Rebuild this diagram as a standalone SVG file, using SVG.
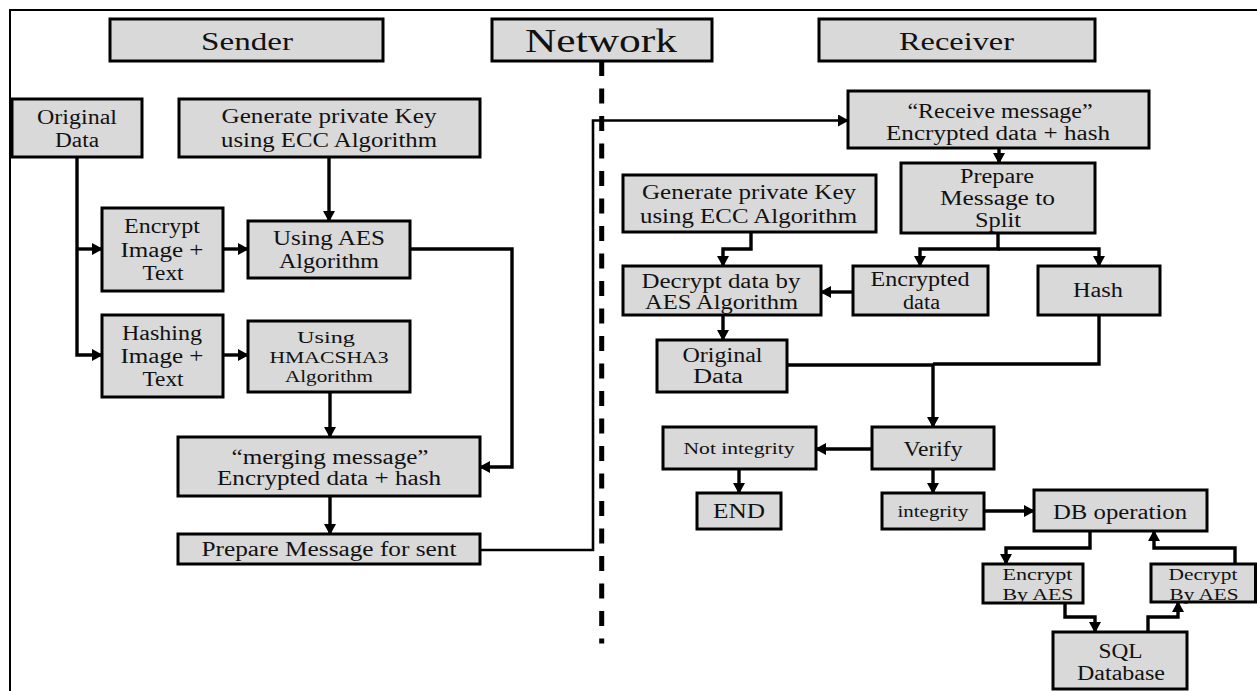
<svg xmlns="http://www.w3.org/2000/svg" width="1257" height="691" viewBox="0 0 1257 691">
  <style>
    .box { fill: #d9d9d9; stroke: #000; stroke-width: 3; }
    .t { font-family: "Liberation Serif", "Times New Roman", serif; font-size: 20px; fill: #111; text-anchor: middle; }
    .sm { font-size: 17px; }
    .hd { font-size: 26px; }
    .big { font-size: 33px; }
    .ln { fill: none; stroke: #000; stroke-width: 3.4; }
    .thin { stroke-width: 2.6; }
    .arr { marker-end: url(#ah); }
  </style>
  <defs>
    <marker id="ah" viewBox="0 0 11 12" refX="10" refY="6" markerWidth="11" markerHeight="12" markerUnits="userSpaceOnUse" orient="auto">
      <path d="M0,0 L11,6 L0,12 z" fill="#000"/>
    </marker>
  </defs>

  <rect width="1257" height="691" fill="#fff"/>
  <!-- outer frame -->
  <path d="M10,691 V10 H1257" fill="none" stroke="#000" stroke-width="2"/>

  <!-- lane headers -->
  <g id="hdr-sender">
    <rect class="box" x="110" y="19" width="273" height="42"/>
    <text class="t hd" x="247" y="50" textLength="92" lengthAdjust="spacingAndGlyphs">Sender</text>
  </g>
  <g id="hdr-network">
    <rect class="box" x="492" y="19" width="220" height="42"/>
    <text class="t big" x="601" y="51.5" textLength="152" lengthAdjust="spacingAndGlyphs">Network</text>
  </g>
  <g id="hdr-receiver">
    <rect class="box" x="819" y="19" width="276" height="42"/>
    <text class="t hd" x="956.5" y="50" textLength="115" lengthAdjust="spacingAndGlyphs">Receiver</text>
  </g>

  <!-- network divider -->
  <line x1="601.7" y1="61" x2="601.7" y2="643.5" stroke="#000" stroke-width="5" stroke-dasharray="15 12.5"/>

  <!-- connectors -->
  <g id="connectors">
    <path class="ln arr" d="M77,157 V355 H102"/>
    <path class="ln arr" d="M77,249 H102"/>
    <path class="ln arr" d="M223,249 H248"/>
    <path class="ln arr" d="M223,355 H248"/>
    <path class="ln arr" d="M329,157 V221"/>
    <path class="ln arr" d="M410,249 H512 V467 H480"/>
    <path class="ln arr" d="M330,392 V437"/>
    <path class="ln arr" d="M330,496 V534"/>
    <path class="ln thin arr" d="M480,550 H593 V120.5 H848"/>

    <path class="ln arr" d="M999,148 V163"/>
    <path class="ln arr" d="M998,233 V249 H920 V266"/>
    <path class="ln arr" d="M998,249 H1099 V266"/>
    <path class="ln arr" d="M751,232 V249 H723 V266"/>
    <path class="ln arr" d="M853,292 H821"/>
    <path class="ln arr" d="M723,315 V340"/>
    <path class="ln" d="M787,365 H933"/>
    <path class="ln" d="M1099,315 V364 H933"/>
    <path class="ln arr" d="M933,364 V427"/>
    <path class="ln arr" d="M872,449 H816"/>
    <path class="ln arr" d="M739,469 V493"/>
    <path class="ln arr" d="M933,469 V493"/>
    <path class="ln arr" d="M984,511 H1034"/>
    <path class="ln arr" d="M1090,531 V548 H1006 V564"/>
    <path class="ln arr" d="M1065,603 V617 H1095 V632"/>
    <path class="ln arr" d="M1148,632 V617 H1178 V602"/>
    <path class="ln arr" d="M1235,564 V548 H1154 V531"/>
  </g>

  <!-- sender side -->
  <g id="s-original">
    <rect class="box" x="12" y="99" width="130" height="58"/>
    <text class="t" x="77" y="124" textLength="80" lengthAdjust="spacingAndGlyphs">Original</text>
    <text class="t" x="77" y="147" textLength="44" lengthAdjust="spacingAndGlyphs">Data</text>
  </g>
  <g id="s-genkey">
    <rect class="box" x="179" y="99" width="301" height="58"/>
    <text class="t" x="329" y="123" textLength="215" lengthAdjust="spacingAndGlyphs">Generate private Key</text>
    <text class="t" x="329" y="147" textLength="216" lengthAdjust="spacingAndGlyphs">using ECC Algorithm</text>
  </g>
  <g id="s-encrypt">
    <rect class="box" x="102" y="208" width="121" height="83"/>
    <text class="t" x="162" y="233" textLength="76" lengthAdjust="spacingAndGlyphs">Encrypt</text>
    <text class="t" x="162" y="256.5" textLength="83" lengthAdjust="spacingAndGlyphs">Image +</text>
    <text class="t" x="163" y="279.5" textLength="41" lengthAdjust="spacingAndGlyphs">Text</text>
  </g>
  <g id="s-aes">
    <rect class="box" x="248" y="221" width="162" height="57"/>
    <text class="t" x="329" y="244.5" textLength="112" lengthAdjust="spacingAndGlyphs">Using AES</text>
    <text class="t" x="329" y="267.5" textLength="100" lengthAdjust="spacingAndGlyphs">Algorithm</text>
  </g>
  <g id="s-hashing">
    <rect class="box" x="102" y="315" width="121" height="82"/>
    <text class="t" x="162" y="340" textLength="80" lengthAdjust="spacingAndGlyphs">Hashing</text>
    <text class="t" x="162" y="362.5" textLength="83" lengthAdjust="spacingAndGlyphs">Image +</text>
    <text class="t" x="163" y="385.5" textLength="41" lengthAdjust="spacingAndGlyphs">Text</text>
  </g>
  <g id="s-hmac">
    <rect class="box" x="248" y="321" width="162" height="71"/>
    <text class="t sm" x="326" y="343" textLength="58" lengthAdjust="spacingAndGlyphs">Using</text>
    <text class="t sm" x="329" y="363" textLength="119" lengthAdjust="spacingAndGlyphs">HMACSHA3</text>
    <text class="t sm" x="329" y="382" textLength="88" lengthAdjust="spacingAndGlyphs">Algorithm</text>
  </g>
  <g id="s-merge">
    <rect class="box" x="178" y="437" width="302" height="59"/>
    <text class="t" x="330" y="463.5" textLength="197" lengthAdjust="spacingAndGlyphs">“merging message”</text>
    <text class="t" x="329" y="485" textLength="224" lengthAdjust="spacingAndGlyphs">Encrypted data + hash</text>
  </g>
  <g id="s-prepare">
    <rect class="box" x="178" y="534" width="302" height="30"/>
    <text class="t" x="329" y="556" textLength="255" lengthAdjust="spacingAndGlyphs">Prepare Message for sent</text>
  </g>

  <!-- receiver side -->
  <g id="r-receive">
    <rect class="box" x="848" y="91" width="301" height="57"/>
    <text class="t" x="1000" y="117.5" textLength="185" lengthAdjust="spacingAndGlyphs">“Receive message”</text>
    <text class="t" x="998" y="139.5" textLength="224" lengthAdjust="spacingAndGlyphs">Encrypted data + hash</text>
  </g>
  <g id="r-split">
    <rect class="box" x="901" y="163" width="194" height="70"/>
    <text class="t" x="997" y="183" textLength="74" lengthAdjust="spacingAndGlyphs">Prepare</text>
    <text class="t" x="997.5" y="205" textLength="115" lengthAdjust="spacingAndGlyphs">Message to</text>
    <text class="t" x="998" y="227" textLength="46" lengthAdjust="spacingAndGlyphs">Split</text>
  </g>
  <g id="r-genkey">
    <rect class="box" x="623" y="175" width="253" height="57"/>
    <text class="t" x="749" y="199" textLength="214" lengthAdjust="spacingAndGlyphs">Generate private Key</text>
    <text class="t" x="748.5" y="222.5" textLength="217" lengthAdjust="spacingAndGlyphs">using ECC Algorithm</text>
  </g>
  <g id="r-decrypt">
    <rect class="box" x="623" y="266" width="198" height="49"/>
    <text class="t" x="721" y="287.5" textLength="159" lengthAdjust="spacingAndGlyphs">Decrypt data by</text>
    <text class="t" x="721.5" y="308.5" textLength="153" lengthAdjust="spacingAndGlyphs">AES Algorithm</text>
  </g>
  <g id="r-encdata">
    <rect class="box" x="853" y="266" width="135" height="49"/>
    <text class="t" x="920" y="286" textLength="99" lengthAdjust="spacingAndGlyphs">Encrypted</text>
    <text class="t" x="921.5" y="308.5" textLength="37" lengthAdjust="spacingAndGlyphs">data</text>
  </g>
  <g id="r-hash">
    <rect class="box" x="1038" y="266" width="122" height="49"/>
    <text class="t" x="1098" y="297" textLength="50" lengthAdjust="spacingAndGlyphs">Hash</text>
  </g>
  <g id="r-original">
    <rect class="box" x="657" y="340" width="130" height="52"/>
    <text class="t" x="722.5" y="361.5" textLength="80" lengthAdjust="spacingAndGlyphs">Original</text>
    <text class="t" x="718" y="383" textLength="50" lengthAdjust="spacingAndGlyphs">Data</text>
  </g>
  <g id="r-verify">
    <rect class="box" x="872" y="427" width="122" height="42"/>
    <text class="t" x="933" y="456" textLength="59" lengthAdjust="spacingAndGlyphs">Verify</text>
  </g>
  <g id="r-notint">
    <rect class="box" x="663" y="427" width="153" height="42"/>
    <text class="t sm" x="739" y="454" textLength="111" lengthAdjust="spacingAndGlyphs">Not integrity</text>
  </g>
  <g id="r-end">
    <rect class="box" x="697" y="493" width="84" height="36"/>
    <text class="t" x="739" y="517.5" textLength="52" lengthAdjust="spacingAndGlyphs">END</text>
  </g>
  <g id="r-integrity">
    <rect class="box" x="882" y="493" width="102" height="36"/>
    <text class="t sm" x="933" y="516.5" textLength="71" lengthAdjust="spacingAndGlyphs">integrity</text>
  </g>
  <g id="r-db">
    <rect class="box" x="1034" y="490" width="173" height="41"/>
    <text class="t" x="1120" y="518.5" textLength="134" lengthAdjust="spacingAndGlyphs">DB operation</text>
  </g>
  <g id="r-enc-aes">
    <rect class="box" x="983" y="564" width="100" height="39"/>
    <text class="t sm" x="1037.5" y="579.5" textLength="70" lengthAdjust="spacingAndGlyphs">Encrypt</text>
    <text class="t sm" x="1038" y="600" textLength="71" lengthAdjust="spacingAndGlyphs">By AES</text>
  </g>
  <g id="r-dec-aes">
    <rect class="box" x="1151" y="564" width="104.5" height="38"/>
    <text class="t sm" x="1203" y="579.5" textLength="69" lengthAdjust="spacingAndGlyphs">Decrypt</text>
    <text class="t sm" x="1204" y="600" textLength="69" lengthAdjust="spacingAndGlyphs">By AES</text>
  </g>
  <g id="r-sql">
    <rect class="box" x="1053" y="632" width="134" height="57"/>
    <text class="t" x="1120.5" y="657.5" textLength="44" lengthAdjust="spacingAndGlyphs">SQL</text>
    <text class="t" x="1121" y="679.5" textLength="88" lengthAdjust="spacingAndGlyphs">Database</text>
  </g>
</svg>
